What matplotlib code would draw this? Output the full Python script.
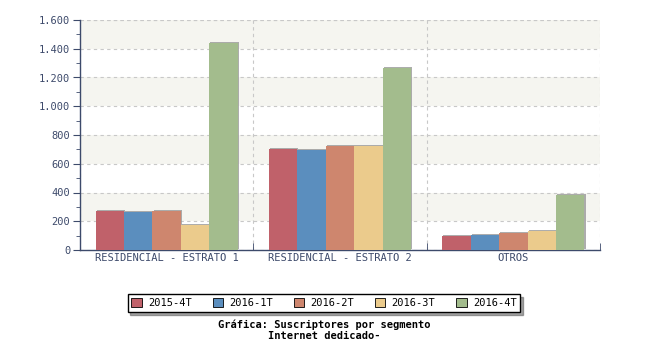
import matplotlib
matplotlib.use('Agg')
import matplotlib.pyplot as plt
import matplotlib.patheffects as pe
from matplotlib.ticker import FixedLocator, FuncFormatter, MultipleLocator
import numpy as np

# subscribers per segment and quarter
categories = ['RESIDENCIAL - ESTRATO 1', 'RESIDENCIAL - ESTRATO 2', 'OTROS']
periods = ['2015-4T', '2016-1T', '2016-2T', '2016-3T', '2016-4T']
v_2015_4 = [274, 700, 95]
v_2016_1 = [263, 698, 102]
v_2016_2 = [270, 723, 116]
v_2016_3 = [172, 722, 133]
v_2016_4 = [1442, 1268, 384]
series = [v_2015_4, v_2016_1, v_2016_2, v_2016_3, v_2016_4]
colors = ['#c0616a', '#5b8ebe', '#ce866e', '#ebcb8c', '#a3bc8d']

txt = '#3d4a6b'
plt.rcParams['font.family'] = 'DejaVu Sans Mono'

fig = plt.figure(figsize=(6.5, 3.5), dpi=100)
ax = fig.add_axes([80/650, 100/350, 520/650, 230/350])

ymax = 1600
# alternating background bands
for lo in range(0, ymax, 400):
    ax.axhspan(lo + 200, lo + 400, color='#f5f5f0', zorder=0, lw=0)

x = np.arange(len(categories))
w = 0.164
shadow = [pe.SimplePatchShadow(offset=(0.8, 0.8), shadow_rgbFace='#999999', alpha=0.8), pe.Normal()]
for i, (vals, c) in enumerate(zip(series, colors)):
    ax.bar(x + (i - 2) * w, vals, w, color=c, label=periods[i], zorder=3,
           path_effects=shadow)

ax.set_xlim(-0.5, len(categories) - 0.5)
ax.set_ylim(0, ymax)

ax.yaxis.set_major_locator(MultipleLocator(200))
ax.yaxis.set_minor_locator(MultipleLocator(100))
ax.yaxis.set_major_formatter(FuncFormatter(lambda v, p: f'{int(v):,}'.replace(',', '.')))
ax.set_xticks(x)
ax.set_xticklabels(categories)
ax.xaxis.set_minor_locator(FixedLocator(np.arange(-0.5, len(categories), 1)))
ax.tick_params(axis='x', which='major', length=0, labelsize=7.5, colors=txt, pad=2)
ax.tick_params(axis='x', which='minor', length=5, direction='in', color=txt)
ax.tick_params(axis='y', which='major', length=5, labelsize=7.5, colors=txt, pad=2)
ax.tick_params(axis='y', which='minor', length=3, color=txt)

ax.grid(axis='y', which='major', color='#c8c8c8', ls=(0, (3, 3)), lw=0.8, zorder=1)
ax.grid(axis='x', which='minor', color='#c8c8c8', ls=(0, (3, 3)), lw=0.8, zorder=1)
ax.set_axisbelow(True)

for s in ['top', 'right']:
    ax.spines[s].set_visible(False)
ax.axhline(ymax, color='#c8c8c8', ls=(0, (3, 3)), lw=0.8, zorder=1)
for s in ['left', 'bottom']:
    ax.spines[s].set_color(txt)
    ax.spines[s].set_linewidth(1.0)

leg = fig.legend(loc='center', bbox_to_anchor=(324/650, 1 - 303/350), ncol=5,
                 fontsize=7.5, frameon=True, fancybox=False, shadow=True,
                 handlelength=1.0, handleheight=1.0, handletextpad=0.6,
                 columnspacing=2.0, borderpad=0.35, edgecolor='black')
leg.get_frame().set_linewidth(1.0)
for h in leg.legend_handles:
    h.set_edgecolor('black')
    h.set_linewidth(0.6)
    h.set_path_effects([])

fig.text(324/650, 1 - 330/350, 'Gráfica: Suscriptores por segmento\nInternet dedicado-',
         ha='center', va='center', fontsize=7.5, fontweight='bold', color='black',
         linespacing=1.1)

fig.savefig('out.png', dpi=100)
